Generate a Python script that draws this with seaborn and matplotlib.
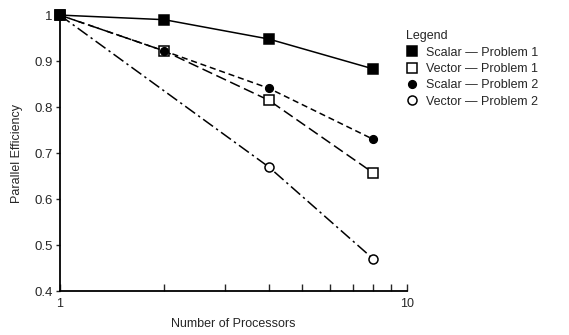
import numpy as np
import pandas as pd
import matplotlib
matplotlib.use('Agg')
import matplotlib.pyplot as plt
import matplotlib.ticker as mticker
from matplotlib.lines import Line2D
import seaborn as sns

# values
procs = [1, 2, 4, 8]
scalar_p1 = [1.0, 0.99, 0.948, 0.883]
vector_p1 = [1.0, 0.922, 0.815, 0.657]
scalar_p2 = [1.0, 0.922, 0.841, 0.730]
vector_p2_procs = [1, 4, 8]
vector_p2 = [1.0, 0.670, 0.470]

# name, x, y, linestyle, marker, face colour, marker size, zorder
series = [
    ('Scalar — Problem 1', procs, scalar_p1, '-', 's', 'black', 7.5, 10),
    ('Vector — Problem 1', procs, vector_p1, (0, (7, 3)), 's', 'white', 7, 8),
    ('Scalar — Problem 2', procs, scalar_p2, (0, (4, 2.5)), 'o', 'black', 5.5, 9),
    ('Vector — Problem 2', vector_p2_procs, vector_p2, (0, (8, 2.5, 1.5, 2.5)), 'o', 'white', 6.5, 7),
]

sns.set_style('white')
plt.rcParams['font.family'] = ['Liberation Sans', 'DejaVu Sans']

fig = plt.figure(figsize=(5.69, 3.35), dpi=100)
ax = fig.add_axes([0.105, 0.131, 0.61, 0.824])

handles = []
for name, x, y, ls, mk, fc, ms, z in series:
    df = pd.DataFrame({'procs': x, 'eff': y})
    sns.lineplot(data=df, x='procs', y='eff', ax=ax, color='black', lw=1.1,
                 linestyle=ls, marker=mk, markersize=ms, markerfacecolor=fc,
                 markeredgecolor='black', markeredgewidth=1.1, clip_on=False,
                 legend=False, zorder=z)
    handles.append(Line2D([], [], linestyle='none', marker=mk, markersize=ms,
                          markerfacecolor=fc, markeredgecolor='black',
                          markeredgewidth=1.1, label=name))

ax.set_xscale('log')
ax.set_xlim(1, 10)
ax.set_ylim(0.4, 1.0)
ax.xaxis.set_major_locator(mticker.FixedLocator([1, 10]))
ax.xaxis.set_major_formatter(mticker.FixedFormatter(['1', '10']))
ax.xaxis.set_minor_locator(mticker.FixedLocator(range(2, 10)))
ax.xaxis.set_minor_formatter(mticker.NullFormatter())
ax.set_yticks([0.4, 0.5, 0.6, 0.7, 0.8, 0.9, 1.0])
ax.set_yticklabels(['0.4', '0.5', '0.6', '0.7', '0.8', '0.9', '1'])
ax.tick_params(axis='x', which='both', direction='in', length=5, width=1,
               labelsize=9, pad=5, bottom=True)
ax.tick_params(axis='y', direction='out', length=3, width=1, labelsize=9.5,
               left=True, pad=2)
for s in ['top', 'right']:
    ax.spines[s].set_visible(False)
for s in ['left', 'bottom']:
    ax.spines[s].set_color('black')
    ax.spines[s].set_linewidth(1.3)

ax.set_xlabel('Number of Processors', fontsize=9, labelpad=6)
ax.set_ylabel('Parallel Efficiency', fontsize=9, labelpad=8)

leg = fig.legend(handles=handles, title='Legend', loc='upper left',
                 bbox_to_anchor=(0.705, 0.925), frameon=False, fontsize=9,
                 title_fontsize=9, handlelength=1.0, handletextpad=0.6,
                 labelspacing=0.35, borderaxespad=0)
leg._legend_box.align = 'left'

fig.savefig('out.png', dpi=100)
